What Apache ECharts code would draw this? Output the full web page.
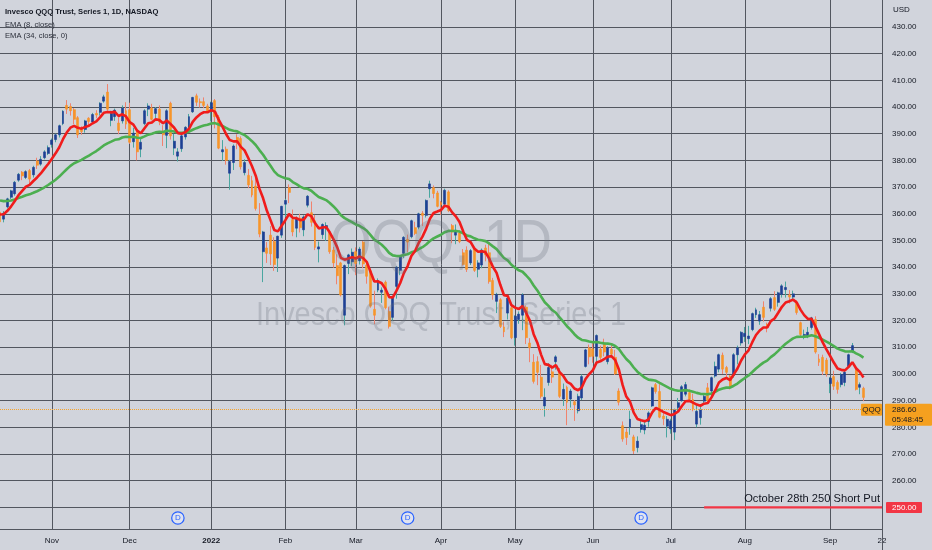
<!DOCTYPE html>
<html><head><meta charset="utf-8">
<script src="https://cdn.jsdelivr.net/npm/echarts@6.0.0/dist/echarts.min.js"></script>
<style>html,body{margin:0;padding:0;background:#d1d4dc}#main{width:932px;height:550px}</style>
</head><body><div id="main"></div>
<script>
// ---- calendar / axis ----
const axisStart = '2021-10-12';
const axisEnd = '2022-09-22';
const holidays = ['2021-11-25','2021-12-24','2022-01-17','2022-02-21','2022-04-15','2022-05-30','2022-06-20','2022-07-04','2022-09-05'];
const tickDates = ['2021-11-01','2021-12-01','2022-01-03','2022-02-01','2022-03-01','2022-04-01','2022-05-02','2022-06-01','2022-07-01','2022-08-01','2022-09-01','2022-09-22'];
const tickLabels = ['Nov','Dec','2022','Feb','Mar','Apr','May','Jun','Jul','Aug','Sep','22'];
const priceTicks = [250,260,270,280,290,300,310,320,330,340,350,360,370,380,390,400,410,420,430];
const yMin = 241.9, yMax = 440.1;

// ---- daily candles [open, close, low, high] ----
const oct21 = [
[360.6,357.0,355.8,361.2],[358.0,360.2,356.8,361.0],[362.6,365.6,362.0,366.0],[366.2,368.6,365.5,369.0],
[367.5,371.8,366.8,372.3],[372.6,374.8,372.0,375.3],[375.6,374.2,372.6,376.0],[373.6,375.8,373.0,376.3],
[376.2,373.0,371.2,376.8],[374.6,377.4,373.6,378.0],[379.8,378.2,376.8,381.0],[378.6,380.4,378.0,381.6],
[381.0,383.2,380.4,383.8],[382.6,384.8,382.0,385.6]];
const nov21 = [
[386.0,387.6,384.8,388.2],[387.8,389.6,386.8,390.0],[389.6,393.0,388.6,393.4],[393.8,398.4,393.2,398.8],
[400.6,399.2,397.4,402.6],[400.2,398.6,396.8,401.4],[399.0,395.4,393.6,399.6],[396.0,389.6,388.4,396.6],
[391.8,390.8,389.6,392.8],[391.6,394.8,390.4,395.2],[395.8,394.6,392.6,396.2],[394.4,397.2,394.0,397.8],
[397.6,397.0,395.8,398.8],[398.0,401.4,396.8,401.8],[402.2,403.8,401.6,404.6],[405.6,399.2,398.6,408.6],
[395.0,397.6,392.8,398.6],[396.4,398.8,394.8,399.4],[394.0,391.2,389.8,396.2],[394.8,399.6,393.8,400.6],
[398.6,393.6,391.8,401.8]];
const dec21 = [
[399.0,386.8,386.2,401.6],[387.0,390.2,384.8,392.2],[391.0,383.2,380.0,392.0],[384.2,386.8,381.2,388.6],
[393.8,398.6,393.2,399.2],[399.2,400.4,396.6,401.4],[399.6,395.4,395.0,401.2],[397.6,399.4,395.6,400.0],
[399.2,394.4,393.2,400.6],[390.6,389.6,385.4,393.2],[389.4,398.6,384.6,399.2],[401.4,389.2,387.8,402.0],
[384.6,387.2,382.0,390.0],[381.6,383.2,379.6,384.6],[384.4,389.2,383.2,389.6],[388.8,392.4,387.8,392.8],
[392.4,396.4,392.0,397.4],[398.2,403.6,397.8,403.8],[404.2,401.8,400.4,405.0],[402.0,401.6,399.8,403.2],
[402.0,400.6,399.6,403.6],[400.4,398.0,397.8,401.2]];
const jan22 = [
[398.6,401.6,394.6,402.0],[402.4,396.4,392.0,403.0],[396.2,384.6,384.2,397.0],[383.2,384.0,379.8,387.6],
[384.2,380.0,378.4,385.2],[375.2,379.6,369.0,380.2],[379.2,385.4,376.4,386.0],[388.6,387.4,384.2,389.8],
[388.2,377.6,376.6,389.0],[375.4,379.2,374.4,380.4],[374.4,370.8,369.6,376.8],[372.4,367.0,366.2,374.2],
[370.4,362.0,361.2,374.4],[359.6,352.4,351.2,364.0],[345.8,353.2,334.4,353.6],[347.2,345.2,341.6,349.4],
[352.0,345.0,340.8,355.4],[349.6,341.0,338.6,351.2],[343.4,351.6,338.2,351.8],[352.0,362.8,351.0,363.0]];
const feb22 = [
[363.6,365.0,358.8,365.6],[369.8,368.0,364.0,371.0],[357.8,353.2,351.6,361.6],[354.6,358.2,351.2,359.0],
[358.4,354.8,353.0,360.0],[354.0,358.8,351.6,359.4],[363.2,366.6,362.4,367.0],[360.4,356.8,355.2,364.6],
[357.4,347.4,346.4,359.6],[346.8,347.6,341.8,349.6],[352.2,356.0,350.6,356.4],[354.4,355.6,349.8,356.8],
[353.2,345.8,345.0,353.6],[346.4,341.6,339.8,347.6],[340.6,336.8,333.6,344.8],[341.6,329.6,329.0,342.0],
[322.0,340.6,318.2,341.0],[341.4,344.6,337.4,345.0],[342.0,345.6,340.4,347.0]];
const mar22 = [
[345.8,341.4,337.0,347.4],[342.4,346.8,341.0,347.6],[349.4,341.2,339.6,349.8],[340.8,336.6,333.8,341.6],
[338.6,325.4,324.8,339.4],[324.2,322.0,318.6,331.2],[331.4,335.0,330.6,335.8],[330.6,331.4,326.6,332.4],
[334.4,324.8,324.2,335.0],[323.4,317.8,317.0,325.2],[321.2,328.4,320.0,328.8],[332.8,340.0,328.2,340.4],
[338.8,344.0,337.0,344.4],[345.2,351.2,343.4,351.6],[350.4,349.4,345.6,352.2],[351.4,357.4,350.8,357.8],
[354.8,352.6,352.0,357.0],[355.0,360.0,354.2,360.4],[360.2,359.4,355.4,361.0],[359.4,365.0,358.6,365.4],
[369.4,371.2,366.0,372.4],[369.8,367.6,365.8,370.6],[367.8,362.8,362.4,368.6]];
const apr22 = [
[364.2,363.4,359.6,364.8],[363.6,368.8,363.2,369.4],[368.2,361.2,360.6,368.8],[355.6,353.2,349.0,356.2],
[352.0,353.8,348.6,356.0],[352.8,349.6,349.0,353.8],[345.4,341.0,340.6,346.8],[346.4,339.2,338.2,347.8],
[341.6,346.2,340.8,346.8],[346.8,338.8,338.2,347.4],[339.2,341.6,336.2,342.6],[340.8,346.4,339.6,347.0],
[347.2,344.6,342.2,348.4],[345.4,334.6,333.8,349.0],[335.0,329.6,327.8,336.0],[327.2,329.8,322.8,330.4],
[327.8,317.8,317.2,328.4],[317.6,315.8,313.8,319.6],[322.8,328.4,320.4,329.4],[324.8,313.6,313.0,326.6]];
const may22 = [
[313.6,321.6,310.6,322.0],[320.4,322.4,318.8,323.4],[322.0,329.6,316.4,330.2],[325.0,313.6,311.2,325.6],
[311.6,309.8,304.4,313.4],[304.4,297.2,296.4,307.4],[304.6,300.6,295.8,306.6],[298.8,291.6,290.8,303.4],
[288.0,291.2,284.0,294.6],[296.8,302.4,295.6,304.0],[300.8,298.8,296.6,303.4],[304.6,306.4,301.6,307.0],
[300.6,291.6,291.0,302.2],[290.6,294.2,288.0,296.4],[295.0,289.4,280.8,295.6],[290.6,293.6,287.4,294.4],
[289.6,288.4,282.4,290.2],[286.2,291.6,285.2,292.6],[291.0,299.0,290.2,299.8],[302.8,309.0,302.4,309.4],
[309.8,306.4,303.6,311.0]];
const jun22 = [
[309.4,306.6,304.2,312.0],[306.6,314.4,304.0,314.8],[309.2,306.2,305.0,310.6],[311.6,308.2,306.6,313.2],
[304.6,309.8,303.6,310.4],[309.2,307.4,306.0,311.2],[306.2,300.0,299.6,309.0],[293.6,289.4,288.2,294.6],
[280.6,275.6,274.6,282.2],[278.2,276.2,273.4,279.6],[280.0,283.0,277.2,286.2],[276.4,271.2,270.0,277.2],
[272.4,274.8,270.6,276.6],[279.2,281.0,278.0,282.6],[279.0,280.8,277.4,282.8],[282.2,285.4,280.2,286.0],
[288.0,294.8,287.6,295.2],[296.0,293.4,292.6,296.6],[293.4,283.8,283.4,296.2],[284.2,283.2,280.8,285.6],
[280.4,283.0,276.2,284.2]];
const jul22 = [
[279.4,282.4,277.6,283.2],[278.2,286.6,275.2,287.0],[287.4,289.2,285.6,291.0],[290.0,295.2,289.6,295.8],
[292.4,296.0,291.6,297.0],[293.0,290.4,289.6,294.2],[290.4,286.8,286.0,292.6],[281.2,286.0,280.0,288.6],
[283.6,286.6,281.0,287.6],[289.8,291.6,288.4,292.2],[294.8,290.0,289.0,296.6],[293.6,298.6,292.0,299.0],
[299.2,302.8,298.6,304.6],[301.8,307.2,300.6,307.6],[307.0,301.8,300.0,308.0],[302.4,300.6,298.6,303.0],
[299.2,295.0,294.2,299.6],[299.4,307.2,298.6,307.8],[307.2,309.8,303.6,310.6],[311.6,315.6,310.6,316.0]];
const aug22 = [
[314.0,315.2,312.0,317.6],[313.2,314.2,311.2,318.0],[316.6,322.6,316.0,323.0],[322.2,324.0,321.0,324.8],
[319.8,322.2,318.4,323.6],[325.0,321.2,319.6,327.2],[318.6,317.4,315.6,319.2],[324.6,328.2,323.4,328.8],
[328.6,324.2,323.6,331.0],[326.8,330.4,325.2,330.8],[329.8,333.0,328.6,333.6],[331.6,332.4,328.6,334.6],
[329.6,328.8,326.4,331.4],[328.8,330.0,327.4,331.2],[326.8,323.0,322.2,327.6],[319.2,314.8,314.0,319.6],
[314.4,314.8,313.0,316.6],[314.2,315.6,313.4,317.6],[317.4,321.0,316.6,321.4],[320.4,308.2,307.6,321.6],
[305.6,304.4,303.0,307.4],[306.2,301.0,299.6,307.2],[305.2,300.0,299.0,306.0]];
const sep22 = [
[296.4,298.4,292.8,298.8],[299.0,295.4,294.0,301.2],[296.8,294.2,292.6,297.6],[296.0,299.8,295.0,300.4],
[296.8,300.6,295.4,301.4],[302.8,307.2,302.4,307.6],[308.4,310.6,307.8,311.6],[301.6,294.2,293.8,302.2],
[295.0,296.0,292.4,296.8],[294.6,291.2,289.8,295.2]];

// ---- indicator settings / annotations ----
const emaSeed8 = 360.5;    // EMA values just before the first visible bar
const emaSeed34 = 365.5;
const lastPrice = 286.60;
const countdown = '05:48:45';
const symbolName = 'QQQ';
const putStrike = 250;
const putLineStart = '2022-07-15';
const putNote = 'October 28th 250 Short Put';
const dividendDates = ['2021-12-20','2022-03-21','2022-06-21'];
const titleLines = ['Invesco QQQ Trust, Series 1, 1D, NASDAQ','EMA (8, close)','EMA (34, close, 0)'];
const watermark = ['QQQ, 1D','Invesco QQQ Trust, Series 1'];

// ---- build ----
function tradingDays(from, to){
  const out=[]; const d=new Date(from+'T00:00:00Z'); const end=new Date(to+'T00:00:00Z');
  while(d<=end){ const wd=d.getUTCDay(); const s=d.toISOString().slice(0,10);
    if(wd!==0&&wd!==6&&!holidays.includes(s)) out.push(s); d.setUTCDate(d.getUTCDate()+1); }
  return out;
}
function emaOf(values, period, seed){
  const k=2/(period+1); let prev=seed;
  return values.map(v=>{ prev=prev+k*(v-prev); return Math.round(prev*100)/100; });
}
const dates = tradingDays(axisStart, axisEnd);
const ohlc = [].concat(oct21,nov21,dec21,jan22,feb22,mar22,apr22,may22,jun22,jul22,aug22,sep22);
const closes = ohlc.map(r=>r[1]);
const ema8 = emaOf(closes, 8, emaSeed8);
const ema34 = emaOf(closes, 34, emaSeed34);
const bodies = ohlc.map(([o,c])=>[o,c,Math.min(o,c),Math.max(o,c)]);
const putLine = dates.map(d => d >= putLineStart ? putStrike : '-');

const FONT = "'Liberation Sans', Arial, sans-serif";
const TXT = '#131722';
const GRIDC = '#52565f';
const UP = '#1d3f94', DOWN = '#f7952a', UPW = '#4aa6a0', DOWNW = '#f0836e';

const chart = echarts.init(document.getElementById('main'));
chart.setOption({
  backgroundColor: '#d1d4dc',
  animation: false,
  textStyle: {fontFamily: FONT},
  grid: {left: 0, right: 50, top: 0, bottom: 21},
  xAxis: {
    type: 'category', data: dates, boundaryGap: false,
    axisLine: {show: true, lineStyle: {color: GRIDC, width: 1}},
    axisTick: {show: false},
    axisLabel: {
      interval: (i, v) => tickDates.includes(v), showMinLabel: true, showMaxLabel: true,
      formatter: v => { const t = tickLabels[tickDates.indexOf(v)] || ''; return /^\d{4}$/.test(t) ? '{b|' + t + '}' : t; },
      color: TXT, fontSize: 8, margin: 8, fontFamily: FONT,
      rich: {b: {fontWeight: 'bold', fontSize: 8, color: TXT, fontFamily: FONT}}
    },
    splitLine: {show: true, interval: (i, v) => tickDates.includes(v), lineStyle: {color: GRIDC, width: 1}}
  },
  yAxis: {
    type: 'value', position: 'right', min: yMin, max: yMax, scale: true,
    axisLine: {show: true, lineStyle: {color: GRIDC, width: 1}},
    axisTick: {show: false, customValues: priceTicks},
    axisLabel: {customValues: priceTicks, formatter: v => v.toFixed(2), color: TXT, fontSize: 8, margin: 10, fontFamily: FONT},
    splitLine: {show: true, lineStyle: {color: GRIDC, width: 1}}
  },
  series: [
    {name: 'wicks', type: 'candlestick', data: ohlc, barWidth: 0.6, z: 2,
     itemStyle: {color: UPW, color0: DOWNW, borderColor: UPW, borderColor0: DOWNW, borderWidth: 1}},
    {name: symbolName, type: 'candlestick', data: bodies, barWidth: 2.4, z: 3,
     itemStyle: {color: UP, color0: DOWN, borderColor: UP, borderColor0: DOWN, borderWidth: 0.6},
     markLine: {silent: true, symbol: ['none','none'], label: {show: false},
       lineStyle: {color: '#f5a22a', type: 'dotted', width: 1}, data: [{yAxis: lastPrice}]}},
    {name: 'EMA34', type: 'line', data: ema34, showSymbol: false, symbol: 'none', z: 4,
     lineStyle: {color: '#4caf50', width: 2.6}},
    {name: 'EMA8', type: 'line', data: ema8, showSymbol: false, symbol: 'none', z: 5,
     lineStyle: {color: '#f01c1c', width: 2.6}},
    {name: 'putLine', type: 'line', data: putLine, showSymbol: false, symbol: 'none', z: 5,
     lineStyle: {color: '#f23645', width: 2.4}}
  ]
});

function px(d, v){ return chart.convertToPixel({gridIndex: 0}, [d, v]); }
const plotRight = px(dates[dates.length-1], putStrike)[0];
const plotBottom = px(dates[0], yMin)[1];
const plotTop = px(dates[0], yMax)[1];
const yLast = px(dates[0], lastPrice)[1];
const y250 = px(dates[0], putStrike)[1];
const cx = plotRight / 2, cy = (plotTop + plotBottom) / 2;

function txt(x, y, text, o){
  o = o || {};
  return {type: 'text', x: x, y: y, z: o.z || 100, scaleX: o.scaleX || 1,
    style: {text: text, fill: o.fill || TXT, fontSize: o.size || 8, fontFamily: FONT, fontWeight: o.weight || 'normal',
      align: o.align || 'left', textAlign: o.align || 'left', verticalAlign: 'middle', textVerticalAlign: 'middle'}};
}
const g = [];
// watermark
g.push(txt(cx, cy - 20, watermark[0], {size: 62, align: 'center', fill: 'rgba(105,110,125,0.28)', z: 0, scaleX: 0.86}));
g.push(txt(cx, cy + 51, watermark[1], {size: 34, align: 'center', fill: 'rgba(105,110,125,0.28)', z: 0, scaleX: 0.85}));
// legend / title
g.push(txt(5, 12, titleLines[0], {weight: 'bold', size: 8, scaleX: 0.95}));
g.push(txt(5, 24.5, titleLines[1], {size: 8, fill: '#2a2e39', scaleX: 0.95}));
g.push(txt(5, 36, titleLines[2], {size: 8, fill: '#2a2e39', scaleX: 0.95}));
g.push(txt(plotRight + 11, 10, 'USD', {size: 8}));
// right border full height
g.push({type: 'line', z: 50, shape: {x1: plotRight + 0.5, y1: 0, x2: plotRight + 0.5, y2: 550}, style: {stroke: GRIDC, lineWidth: 1}});
// last price labels
g.push({type: 'rect', z: 100, shape: {x: plotRight - 21, y: yLast - 6, width: 21, height: 12, r: 1}, style: {fill: '#f5a01f'}});
g.push(txt(plotRight - 10.5, yLast, symbolName, {size: 8, align: 'center', z: 101}));
g.push({type: 'rect', z: 100, shape: {x: plotRight + 3, y: yLast - 6, width: 47, height: 22, r: 1}, style: {fill: '#f5a01f'}});
g.push(txt(plotRight + 10, yLast, lastPrice.toFixed(2), {size: 8, z: 101}));
g.push(txt(plotRight + 10, yLast + 10.5, countdown, {size: 8, z: 101}));
// short put label + note
g.push({type: 'rect', z: 100, shape: {x: plotRight + 4, y: y250 - 5.5, width: 36, height: 11, r: 1}, style: {fill: '#f23645'}});
g.push(txt(plotRight + 10, y250, putStrike.toFixed(2), {size: 8, fill: '#ffffff', z: 101}));
g.push(txt(plotRight - 2, y250 - 8.5, putNote, {size: 11.5, align: 'right', scaleX: 0.97, z: 101}));
// dividend markers
dividendDates.forEach(d => {
  const x = px(d, putStrike)[0];
  g.push({type: 'circle', z: 100, shape: {cx: x, cy: plotBottom - 11, r: 6.2}, style: {fill: '#dfe3f0', stroke: '#2962ff', lineWidth: 1.2}});
  g.push(txt(x, plotBottom - 11, 'D', {size: 8, align: 'center', fill: '#2962ff', z: 101}));
});
chart.setOption({graphic: g});
</script></body></html>
